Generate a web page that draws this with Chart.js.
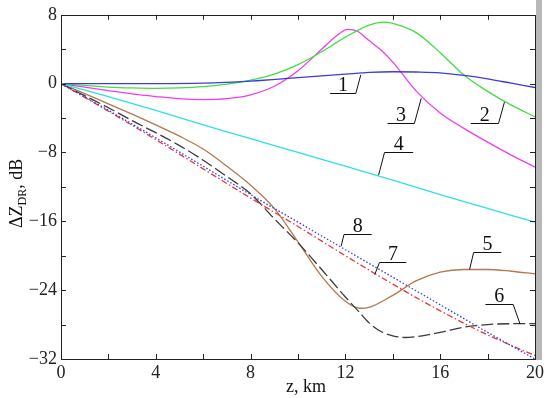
<!DOCTYPE html>
<html>
<head>
<meta charset="utf-8">
<title>ΔZDR vs z</title>
<script src="https://cdn.jsdelivr.net/npm/chart.js@4.4.1/dist/chart.umd.min.js"></script>
<style>
    html, body { margin: 0; padding: 0; background: #fff; }
    #wrap { width: 547px; height: 398px; }
</style>
</head>
<body>
<div id="wrap"><canvas id="zdrChart" width="547" height="398"></canvas></div>
<script>
// Curves: z in km, dZdr in dB
const z1 = [0, 2, 4, 6, 8, 10, 12, 13, 14, 15, 16, 17, 18, 19, 20];
const v1 = [0, 0, 0, 0.05, 0.3, 0.7, 1.1, 1.3, 1.38, 1.35, 1.25, 0.95, 0.55, 0.05, -0.45];

const z2 = [0, 1, 2, 3, 4, 5, 6, 7, 8, 9, 10, 11, 12, 13, 13.6, 14, 15, 16, 17, 18, 19, 20];
const v2 = [0, -0.2, -0.4, -0.5, -0.55, -0.5, -0.35, -0.05, 0.4, 1.1, 2.2, 3.7, 5.4, 6.8, 7.15, 7.0, 5.9, 3.6, 1.0, -0.9, -2.5, -3.85];

const z3 = [0, 1, 2, 3, 4, 5, 6, 7, 8, 9, 10, 11, 11.6, 12.1, 12.5, 13, 13.5, 14, 15, 16, 17, 18, 19, 20];
const v3 = [0, -0.4, -0.8, -1.2, -1.5, -1.75, -1.85, -1.75, -1.3, -0.3, 1.5, 4.0, 5.5, 6.3, 6.1, 5.0, 3.9, 2.5, -0.9, -3.4, -5.2, -6.8, -8.3, -9.7];

const z4 = [0, 2, 4, 6, 8, 10, 12, 14, 16, 18, 20];
const v4 = [0, -1.5, -3.1, -4.8, -6.4, -8.0, -9.6, -11.2, -12.9, -14.5, -16.1];

const z5 = [0, 1, 2, 3, 4, 5, 6, 7, 8, 9, 10, 11, 12, 12.6, 13, 14, 15, 16, 17, 18, 19, 20];
const v5 = [0, -1.15, -2.35, -3.55, -4.8, -6.1, -7.6, -9.6, -11.8, -14.5, -18.4, -22.4, -25.3, -26.1, -26.0, -24.6, -22.9, -21.9, -21.6, -21.6, -21.8, -22.1];

const z6 = [0, 1, 2, 3, 4, 5, 6, 7, 8, 9, 10, 11, 12, 12.6, 13, 13.5, 14, 14.5, 15, 16, 17, 18, 19, 20];
const v6 = [0, -1.4, -2.8, -4.3, -5.7, -7.2, -8.9, -10.8, -12.8, -15.7, -18.5, -21.6, -24.8, -26.6, -27.8, -28.8, -29.3, -29.5, -29.4, -28.9, -28.3, -28.0, -27.9, -27.9];

const z7 = [0, 2, 4, 6, 8, 10, 12, 14, 16, 18, 20];
const v7 = [0, -3.2, -6.5, -9.9, -13.3, -16.6, -20.0, -23.3, -26.4, -29.2, -31.6];

const z8 = [0, 2, 4, 6, 8, 10, 12, 14, 16, 18, 20];
const v8 = [0, -3.1, -6.3, -9.6, -12.9, -16.1, -19.3, -22.5, -25.7, -28.9, -32.0];

// axis ranges / ticks
const xTicks = [0, 4, 8, 12, 16, 20];
const yTicks = [8, 0, -8, -16, -24, -32];

// numbered callouts (data units): underline span, which end the leader leaves from, tip on the curve
const calloutText  = ['1', '2', '3', '4', '5', '6', '7', '8'];
const calloutLineZ = [[11.36, 12.44], [17.29, 18.46], [13.78, 14.91], [13.65, 14.86], [17.41, 18.58], [17.91, 19.08], [13.44, 14.57], [11.94, 13.11]];
const calloutLineV = [-1.13, -4.52, -4.52, -7.92, -19.57, -25.57, -20.70, -17.42];
const calloutFrom  = ['R', 'R', 'R', 'L', 'L', 'R', 'L', 'L'];
const calloutTipZ  = [12.65, 18.71, 15.2, 13.4, 17.24, 19.37, 13.24, 11.82];
const calloutTipV  = [1.02, -2.15, -1.70, -10.63, -21.6, -27.94, -22.17, -18.89];

const SERIF = "'Liberation Serif', 'DejaVu Serif', serif";

const pts = (zs, vs) => zs.map((z, i) => ({ x: z, y: vs[i] }));
const fmtNum = v => v < 0 ? '\u2212' + Math.abs(v) : String(v);

function line(zs, vs, color, dash) {
    return {
        data: pts(zs, vs),
        borderColor: color,
        borderWidth: 1.3,
        borderDash: dash || [],
        pointRadius: 0,
        fill: false,
        cubicInterpolationMode: 'monotone',
    };
}

// frame, inward ticks, axis titles and the numbered leaders
const decorPlugin = {
    id: 'decor',
    afterDatasetsDraw(chart) {
        const { ctx, chartArea: a, scales: { x, y } } = chart;
        ctx.save();

        // scan edge on the right side of the figure
        ctx.fillStyle = '#b8b8b8';
        ctx.fillRect(a.right + 1, 0, 6, a.bottom + 1);

        ctx.strokeStyle = '#222';
        ctx.lineWidth = 1;
        ctx.strokeRect(Math.round(a.left) + 0.5, Math.round(a.top) + 0.5,
            Math.round(a.right - a.left), Math.round(a.bottom - a.top));

        const tl = 5;
        ctx.beginPath();
        for (let v = 2; v < 20; v += 2) {
            const px = Math.round(x.getPixelForValue(v)) + 0.5;
            ctx.moveTo(px, a.bottom); ctx.lineTo(px, a.bottom - tl);
            ctx.moveTo(px, a.top); ctx.lineTo(px, a.top + tl);
        }
        for (let v = 4; v > -32; v -= 4) {
            const py = Math.round(y.getPixelForValue(v)) + 0.5;
            ctx.moveTo(a.left, py); ctx.lineTo(a.left + tl, py);
            ctx.moveTo(a.right, py); ctx.lineTo(a.right - tl, py);
        }
        ctx.stroke();

        // callouts
        ctx.strokeStyle = '#111';
        ctx.fillStyle = '#111';
        ctx.font = '20px ' + SERIF;
        ctx.textAlign = 'center';
        ctx.textBaseline = 'alphabetic';
        calloutText.forEach((t, i) => {
            const xl = x.getPixelForValue(calloutLineZ[i][0]);
            const xr = x.getPixelForValue(calloutLineZ[i][1]);
            const yl = Math.round(y.getPixelForValue(calloutLineV[i])) + 0.5;
            const x0 = calloutFrom[i] === 'L' ? xl : xr;
            ctx.beginPath();
            ctx.moveTo(xl, yl);
            ctx.lineTo(xr, yl);
            ctx.moveTo(x0, yl);
            ctx.lineTo(x.getPixelForValue(calloutTipZ[i]), y.getPixelForValue(calloutTipV[i]));
            ctx.stroke();
            ctx.fillText(t, (xl + xr) / 2, yl - 3);
        });

        // x title
        ctx.font = '18px ' + SERIF;
        ctx.fillText('z, km', 306, 392);

        // y title, rotated, with subscript
        ctx.translate(22, 228);
        ctx.rotate(-Math.PI / 2);
        ctx.textAlign = 'left';
        ctx.font = '18px ' + SERIF;
        ctx.fillText('\u0394Z', 0, 0);
        let off = ctx.measureText('\u0394Z').width;
        ctx.font = '12px ' + SERIF;
        ctx.fillText('DR', off, 4);
        off += ctx.measureText('DR').width;
        ctx.font = '18px ' + SERIF;
        ctx.fillText(', dB', off, 0);

        ctx.restore();
    },
};

const chart = new Chart(document.getElementById('zdrChart'), {
    type: 'line',
    data: {
        datasets: [
            line(z4, v4, '#2fe0e0'),
            line(z8, v8, '#3b3be6', [1.5, 2]),
            line(z7, v7, '#e23a3a', [6, 2.5, 1.5, 2.5]),
            line(z6, v6, '#3a3a3a', [12, 4]),
            line(z5, v5, '#b27850'),
            line(z1, v1, '#3c3cdc'),
            line(z2, v2, '#44dd44'),
            line(z3, v3, '#f03cf0'),
        ],
    },
    options: {
        responsive: false,
        animation: false,
        layout: { padding: { top: 5, right: 7, left: 0, bottom: 0 } },
        plugins: { legend: { display: false }, tooltip: { enabled: false } },
        scales: {
            x: {
                type: 'linear', min: 0, max: 20,
                afterBuildTicks: s => { s.ticks = xTicks.map(v => ({ value: v })); },
                ticks: {
                    callback: v => String(v),
                    font: { family: SERIF, size: 18 }, color: '#222',
                    padding: 3, maxRotation: 0, autoSkip: false,
                },
                grid: { display: false, drawTicks: false },
                border: { display: false },
                afterFit: s => { s.height = 39; },
            },
            y: {
                min: -32, max: 8,
                afterBuildTicks: s => { s.ticks = yTicks.map(v => ({ value: v })); },
                ticks: {
                    callback: v => fmtNum(v),
                    font: { family: SERIF, size: 18 }, color: '#222',
                    padding: 4, autoSkip: false,
                },
                grid: { display: false, drawTicks: false },
                border: { display: false },
                afterFit: s => { s.width = 61; },
            },
        },
    },
    plugins: [decorPlugin],
});
</script>
</body>
</html>
